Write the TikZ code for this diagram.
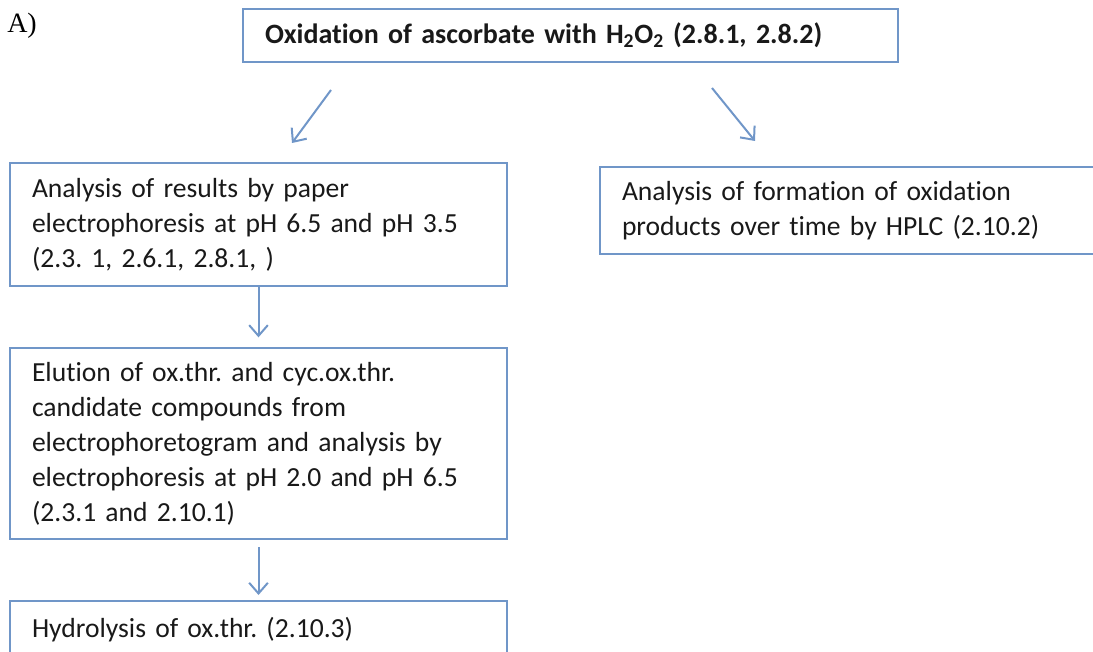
\documentclass[tikz,border=0pt]{standalone}
\usepackage{fontspec}
\setmainfont[Ligatures=NoCommon]{Carlito}
\newfontfamily\serifA{Liberation Serif}
\usetikzlibrary{arrows.meta}
\definecolor{boxblue}{RGB}{112,150,200}
\frenchspacing
\tikzset{
  flowbox/.style={draw=boxblue, line width=2.2pt, rectangle, anchor=north west,
    outer sep=0pt, inner xsep=16.5pt, inner ysep=0pt, align=left,
    font=\fontsize{20.7}{26.3}\selectfont, text=black!90},
  flowarrow/.style={draw=boxblue, line width=1.5pt,
    -{Straight Barb[length=8pt,width=14pt,line width=1.5pt]}},
}
\begin{document}
\begin{tikzpicture}[x=0.75pt,y=-0.75pt]
\useasboundingbox (0,0) rectangle (1093,652);
\clip (0,0) rectangle (1093,652);
\node[anchor=base west, inner sep=0pt, font=\serifA\fontsize{21}{25}\selectfont] (lbl) at (7,33) {A)};
\node[flowbox, minimum width=655*0.75pt, minimum height=53*0.75pt, text width=655*0.75pt-33pt, font=\bfseries\fontsize{21}{26.3}\selectfont] (top) at (243,9)
  {Oxidation of ascorbate with H\textsubscript{2}O\textsubscript{2} (2.8.1, 2.8.2)};
\node[flowbox, minimum width=497*0.75pt, minimum height=123*0.75pt, text width=497*0.75pt-33pt] (b2) at (10,163)
  {Analysis of results by paper\\electrophoresis at pH 6.5 and pH 3.5\\(2.3. 1, 2.6.1, 2.8.1, )};
\node[flowbox, minimum width=500*0.75pt, minimum height=87*0.75pt, text width=500*0.75pt-33pt] (r) at (600,167)
  {Analysis of formation of oxidation\\products over time by HPLC (2.10.2)};
\node[flowbox, minimum width=497*0.75pt, minimum height=191*0.75pt, text width=497*0.75pt-33pt] (b3) at (10,348)
  {Elution of ox.thr. and cyc.ox.thr.\\candidate compounds from\\electrophoretogram and analysis by\\electrophoresis at pH 2.0 and pH 6.5\\(2.3.1 and 2.10.1)};
\node[flowbox, minimum width=497*0.75pt, minimum height=58*0.75pt, text width=497*0.75pt-33pt] (b4) at (10,601)
  {Hydrolysis of ox.thr. (2.10.3)};
\coordinate (l1) at (331,90);
\coordinate (l2) at (292,143);
\coordinate (r1) at (712,88);
\coordinate (r2) at (755,141);
\draw[flowarrow] (l1) -- (l2);
\draw[flowarrow] (r1) -- (r2);
\draw[flowarrow, shorten <=1pt, shorten >=8pt] (b2.south) -- (b3.north);
\draw[flowarrow, shorten <=6pt, shorten >=4.5pt] (b3.south) -- (b4.north);
\end{tikzpicture}
\end{document}
